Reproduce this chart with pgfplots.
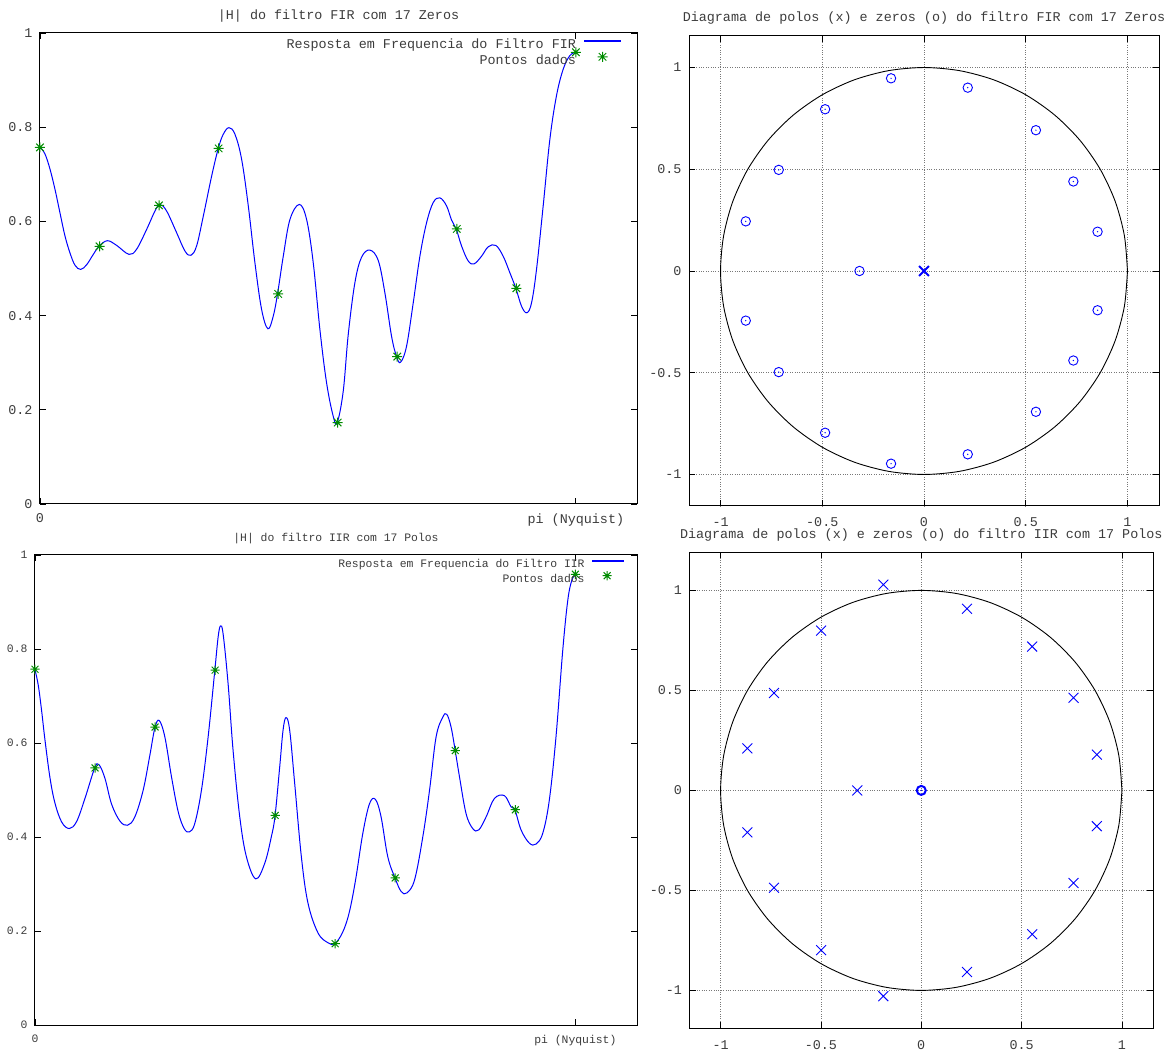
\documentclass[border=0pt]{standalone}
\usepackage{fontspec}
\setmainfont{Liberation Mono}
\usepackage{pgfplots}
\pgfplotsset{compat=1.18}
\definecolor{gblue}{RGB}{0,0,255}
\definecolor{ggreen}{RGB}{0,140,0}
\definecolor{gtext}{RGB}{60,60,60}
\definecolor{ggrid}{RGB}{120,120,120}

\pgfdeclareplotmark{gstar}{%
  \pgfpathmoveto{\pgfqpoint{-\pgfplotmarksize}{0pt}}%
  \pgfpathlineto{\pgfqpoint{\pgfplotmarksize}{0pt}}%
  \pgfpathmoveto{\pgfqpoint{0pt}{-\pgfplotmarksize}}%
  \pgfpathlineto{\pgfqpoint{0pt}{\pgfplotmarksize}}%
  \pgfpathmoveto{\pgfqpoint{-0.75\pgfplotmarksize}{-0.75\pgfplotmarksize}}%
  \pgfpathlineto{\pgfqpoint{0.75\pgfplotmarksize}{0.75\pgfplotmarksize}}%
  \pgfpathmoveto{\pgfqpoint{-0.75\pgfplotmarksize}{0.75\pgfplotmarksize}}%
  \pgfpathlineto{\pgfqpoint{0.75\pgfplotmarksize}{-0.75\pgfplotmarksize}}%
  \pgfusepathqstroke}
\pgfdeclareplotmark{odot}{%
  \pgfpathcircle{\pgfpointorigin}{\pgfplotmarksize}\pgfusepathqstroke
  \pgfpathcircle{\pgfpointorigin}{0.7pt}\pgfusepathqfill}

\pgfplotstableread{
x y
0 0.758
0.0293 0.743
0.0586 0.711
0.0879 0.668
0.1172 0.618
0.1465 0.569
0.1758 0.533
0.2051 0.507
0.2384 0.498
0.2735 0.508
0.3126 0.530
0.3458 0.547
0.3946 0.559
0.4494 0.549
0.5216 0.530
0.5666 0.541
0.6252 0.583
0.6740 0.622
0.7033 0.636
0.7424 0.622
0.8010 0.576
0.8499 0.537
0.8850 0.528
0.9182 0.548
0.9573 0.611
1.0062 0.696
1.0452 0.755
1.0745 0.785
1.1077 0.799
1.1429 0.785
1.1820 0.732
1.2211 0.633
1.2601 0.512
1.2992 0.413
1.3363 0.372
1.3676 0.399
1.3930 0.447
1.4262 0.526
1.4653 0.604
1.5200 0.636
1.5630 0.604
1.6020 0.512
1.6411 0.370
1.6802 0.257
1.7193 0.186
1.7427 0.173
1.7779 0.240
1.8072 0.360
1.8462 0.470
1.8853 0.524
1.9341 0.539
1.9830 0.517
2.0221 0.448
2.0611 0.356
2.0904 0.313
2.1139 0.301
2.1490 0.335
2.1881 0.427
2.2272 0.526
2.2662 0.597
2.3053 0.640
2.3444 0.650
2.3834 0.633
2.4127 0.603
2.4400 0.584
2.4713 0.548
2.5104 0.516
2.5455 0.510
2.5885 0.526
2.6276 0.546
2.6725 0.549
2.7155 0.526
2.7546 0.491
2.7898 0.458
2.8230 0.420
2.8542 0.406
2.8816 0.427
2.9109 0.498
2.9500 0.633
2.9891 0.774
3.0281 0.867
3.0672 0.923
3.1063 0.952
3.1416 0.959
}\firresp

\pgfplotstableread{
x y
0 0.756
0.0194 0.722
0.0387 0.668
0.0581 0.606
0.0871 0.526
0.1161 0.472
0.1549 0.432
0.1994 0.418
0.2420 0.433
0.2904 0.482
0.3465 0.546
0.3717 0.554
0.4065 0.525
0.4452 0.470
0.4936 0.434
0.5381 0.425
0.5807 0.443
0.6291 0.500
0.6678 0.574
0.6969 0.632
0.7220 0.648
0.7549 0.613
0.7936 0.528
0.8324 0.454
0.8672 0.418
0.8982 0.411
0.9291 0.429
0.9679 0.500
1.0066 0.613
1.0453 0.754
1.0646 0.825
1.0782 0.849
1.0937 0.832
1.1227 0.726
1.1517 0.584
1.1904 0.443
1.2291 0.358
1.2834 0.311
1.3356 0.344
1.3744 0.401
1.3956 0.445
1.4227 0.549
1.4421 0.627
1.4595 0.654
1.4808 0.627
1.5098 0.514
1.5486 0.358
1.5873 0.259
1.6453 0.196
1.7034 0.175
1.7421 0.173
1.787 0.196
1.826 0.238
1.864 0.309
1.906 0.408
1.945 0.471
1.979 0.480
2.012 0.443
2.051 0.358
2.094 0.312
2.129 0.284
2.162 0.281
2.207 0.309
2.255 0.401
2.294 0.500
2.332 0.613
2.371 0.655
2.394 0.661
2.419 0.634
2.443 0.584
2.468 0.528
2.506 0.450
2.545 0.418
2.580 0.415
2.623 0.443
2.671 0.482
2.729 0.488
2.768 0.464
2.791 0.457
2.826 0.415
2.874 0.387
2.913 0.385
2.952 0.408
2.990 0.478
3.029 0.613
3.068 0.796
3.097 0.902
3.120 0.945
3.1416 0.959
}\iirresp

\pgfplotstableread{
x y
0 0.757
0.3491 0.547
0.6981 0.634
1.0472 0.755
1.3963 0.446
1.7453 0.173
2.0944 0.313
2.4435 0.584
2.7925 0.458
3.1416 0.959
}\pontos

\pgfplotstableread{
x y
-0.162 0.947
0.215 0.901
-0.486 0.795
0.550 0.692
-0.714 0.497
0.734 0.440
-0.876 0.244
0.853 0.193
-0.317 0
-0.876 -0.244
0.853 -0.193
-0.714 -0.497
0.734 -0.440
-0.486 -0.795
0.550 -0.692
-0.162 -0.947
0.215 -0.901
}\firzeros

\pgfplotstableread{
x y
-0.189 1.029
0.228 0.908
-0.499 0.799
0.553 0.719
-0.734 0.487
0.759 0.463
-0.867 0.210
0.875 0.179
-0.319 0
-0.867 -0.210
0.875 -0.179
-0.734 -0.487
0.759 -0.463
-0.499 -0.799
0.553 -0.719
-0.189 -1.029
0.228 -0.908
}\iirpoles

\pgfplotstableread{
x y
1 0
0.9848 0.1736
0.9397 0.342
0.866 0.5
0.766 0.6428
0.6428 0.766
0.5 0.866
0.342 0.9397
0.1736 0.9848
0 1
-0.1736 0.9848
-0.342 0.9397
-0.5 0.866
-0.6428 0.766
-0.766 0.6428
-0.866 0.5
-0.9397 0.342
-0.9848 0.1736
-1 0
-0.9848 -0.1736
-0.9397 -0.342
-0.866 -0.5
-0.766 -0.6428
-0.6428 -0.766
-0.5 -0.866
-0.342 -0.9397
-0.1736 -0.9848
0 -1
0.1736 -0.9848
0.342 -0.9397
0.5 -0.866
0.6428 -0.766
0.766 -0.6428
0.866 -0.5
0.9397 -0.342
0.9848 -0.1736
1 0
}\unitcircle

\pgfplotsset{
  gp/.style={
    scale only axis, anchor=south west, clip=false,
    /pgf/number format/assume math mode=true,
    tick align=inside, major tick length=6pt,
    every tick/.style={black, line width=0.8pt},
    axis line style={black, line width=1pt},
    every tick label/.append style={text=gtext},
    title style={at={(0.5,1)}, anchor=base, text=gtext},
    yticklabel style={xshift=-4pt},
  },
  resp/.style={gp, xmin=0, xmax=3.5, ymin=0, ymax=1,
    xtick={0,3.14159}, xticklabels={0,pi (Nyquist)},
    ytick={0,0.2,0.4,0.6,0.8,1},
    xticklabel style={yshift=-6.5pt},
    legend plot pos=right, legend cell align=right,
    legend style={draw=none, fill=none, at={(1,1)}, anchor=north east,
      inner sep=0pt, outer sep=0pt},
  },
  pz/.style={gp, xmin=-1.155, xmax=1.155,
    xtick={-1,-0.5,0,0.5,1}, ytick={-1,-0.5,0,0.5,1},
    xticklabel style={yshift=-8.5pt},
    grid=major, major grid style={ggrid, dotted, line width=0.7pt}},
  leglineA/.style={legend image code/.code={\path (0pt,0pt) (36pt,0pt); \fill[gblue] (0pt,3.3pt) rectangle (36pt,4.7pt);}},
  legmarkA/.style={legend image code/.code={\path (0pt,0pt) (36pt,0pt); \draw[##1] plot coordinates {(18pt,4pt)};}},
  leglineB/.style={legend image code/.code={\path (0pt,0pt) (31pt,0pt); \fill[gblue] (0pt,2.8pt) rectangle (31pt,4.2pt);}},
  legmarkB/.style={legend image code/.code={\path (0pt,0pt) (31pt,0pt); \draw[##1] plot coordinates {(15pt,3.5pt)};}},
}

\begin{document}
\begin{tikzpicture}
\path[use as bounding box] (0pt,0pt) rectangle (1169pt,1050pt);

% top left
\begin{axis}[resp, at={(40pt,546pt)}, width=597pt, height=471pt,
  font=\fontsize{13.4}{15}\selectfont,
  title={|H| do filtro FIR com 17 Zeros}, title style={yshift=7.5pt},
  legend style={xshift=-16pt, yshift=-5.5pt, /tikz/column sep=8pt,
    nodes={inner sep=0pt, text height=10pt, text depth=3.3pt}},
]
\addplot[gblue, line width=1pt, smooth, tension=0.6, leglineA]
  table[x=x,y=y] {\firresp};
\addlegendentry{\textcolor{gtext}{Resposta em Frequencia do Filtro FIR}}
\addplot[only marks, ggreen, mark=gstar, mark size=5pt, mark options={line width=1pt}, legmarkA]
  table[x=x,y=y] {\pontos};
\addlegendentry{\textcolor{gtext}{Pontos dados}}
\end{axis}

% top right
\begin{axis}[pz, at={(689pt,544pt)}, width=470pt, height=470pt,
  ymin=-1.155, ymax=1.155,
  font=\fontsize{13.4}{15}\selectfont,
  title={Diagrama de polos (x) e zeros (o) do filtro FIR com 17 Zeros}, title style={yshift=8.6pt},
]
\addplot[black, line width=0.9pt, smooth] table[x=x,y=y] {\unitcircle};
\addplot[only marks, gblue, mark=odot, mark size=4.7pt, mark options={line width=0.9pt, fill=gblue}]
  table[x=x,y=y] {\firzeros};
\addplot[only marks, gblue, mark=x, mark size=7pt, mark options={line width=2pt}]
  coordinates {(0,0)};
\end{axis}

% bottom left
\begin{axis}[resp, at={(35pt,25pt)}, width=602pt, height=470pt,
  font=\fontsize{11.4}{13}\selectfont,
  title={|H| do filtro IIR com 17 Polos}, title style={yshift=7pt},
  legend style={xshift=-13.4pt, yshift=-3.5pt, /tikz/column sep=7pt,
    nodes={inner sep=0pt, text height=9.5pt, text depth=3.1pt}},
]
\addplot[gblue, line width=1pt, smooth, tension=0.6, leglineB]
  table[x=x,y=y] {\iirresp};
\addlegendentry{\textcolor{gtext}{Resposta em Frequencia do Filtro IIR}}
\addplot[only marks, ggreen, mark=gstar, mark size=4.6pt, mark options={line width=1pt}, legmarkB]
  table[x=x,y=y] {\pontos};
\addlegendentry{\textcolor{gtext}{Pontos dados}}
\end{axis}

% bottom right
\begin{axis}[pz, at={(689.5pt,21.6pt)}, width=463.5pt, height=476pt,
  ymin=-1.19, ymax=1.19,
  font=\fontsize{13.4}{15}\selectfont,
  title={Diagrama de polos (x) e zeros (o) do filtro IIR com 17 Polos}, title style={yshift=7.5pt},
]
\addplot[black, line width=0.9pt, smooth] table[x=x,y=y] {\unitcircle};
\addplot[only marks, gblue, mark=x, mark size=7pt, mark options={line width=0.9pt}]
  table[x=x,y=y] {\iirpoles};
\addplot[only marks, gblue, mark=odot, mark size=4.5pt, mark options={line width=2pt, fill=gblue}]
  coordinates {(0,0)};
\end{axis}
\end{tikzpicture}
\end{document}
